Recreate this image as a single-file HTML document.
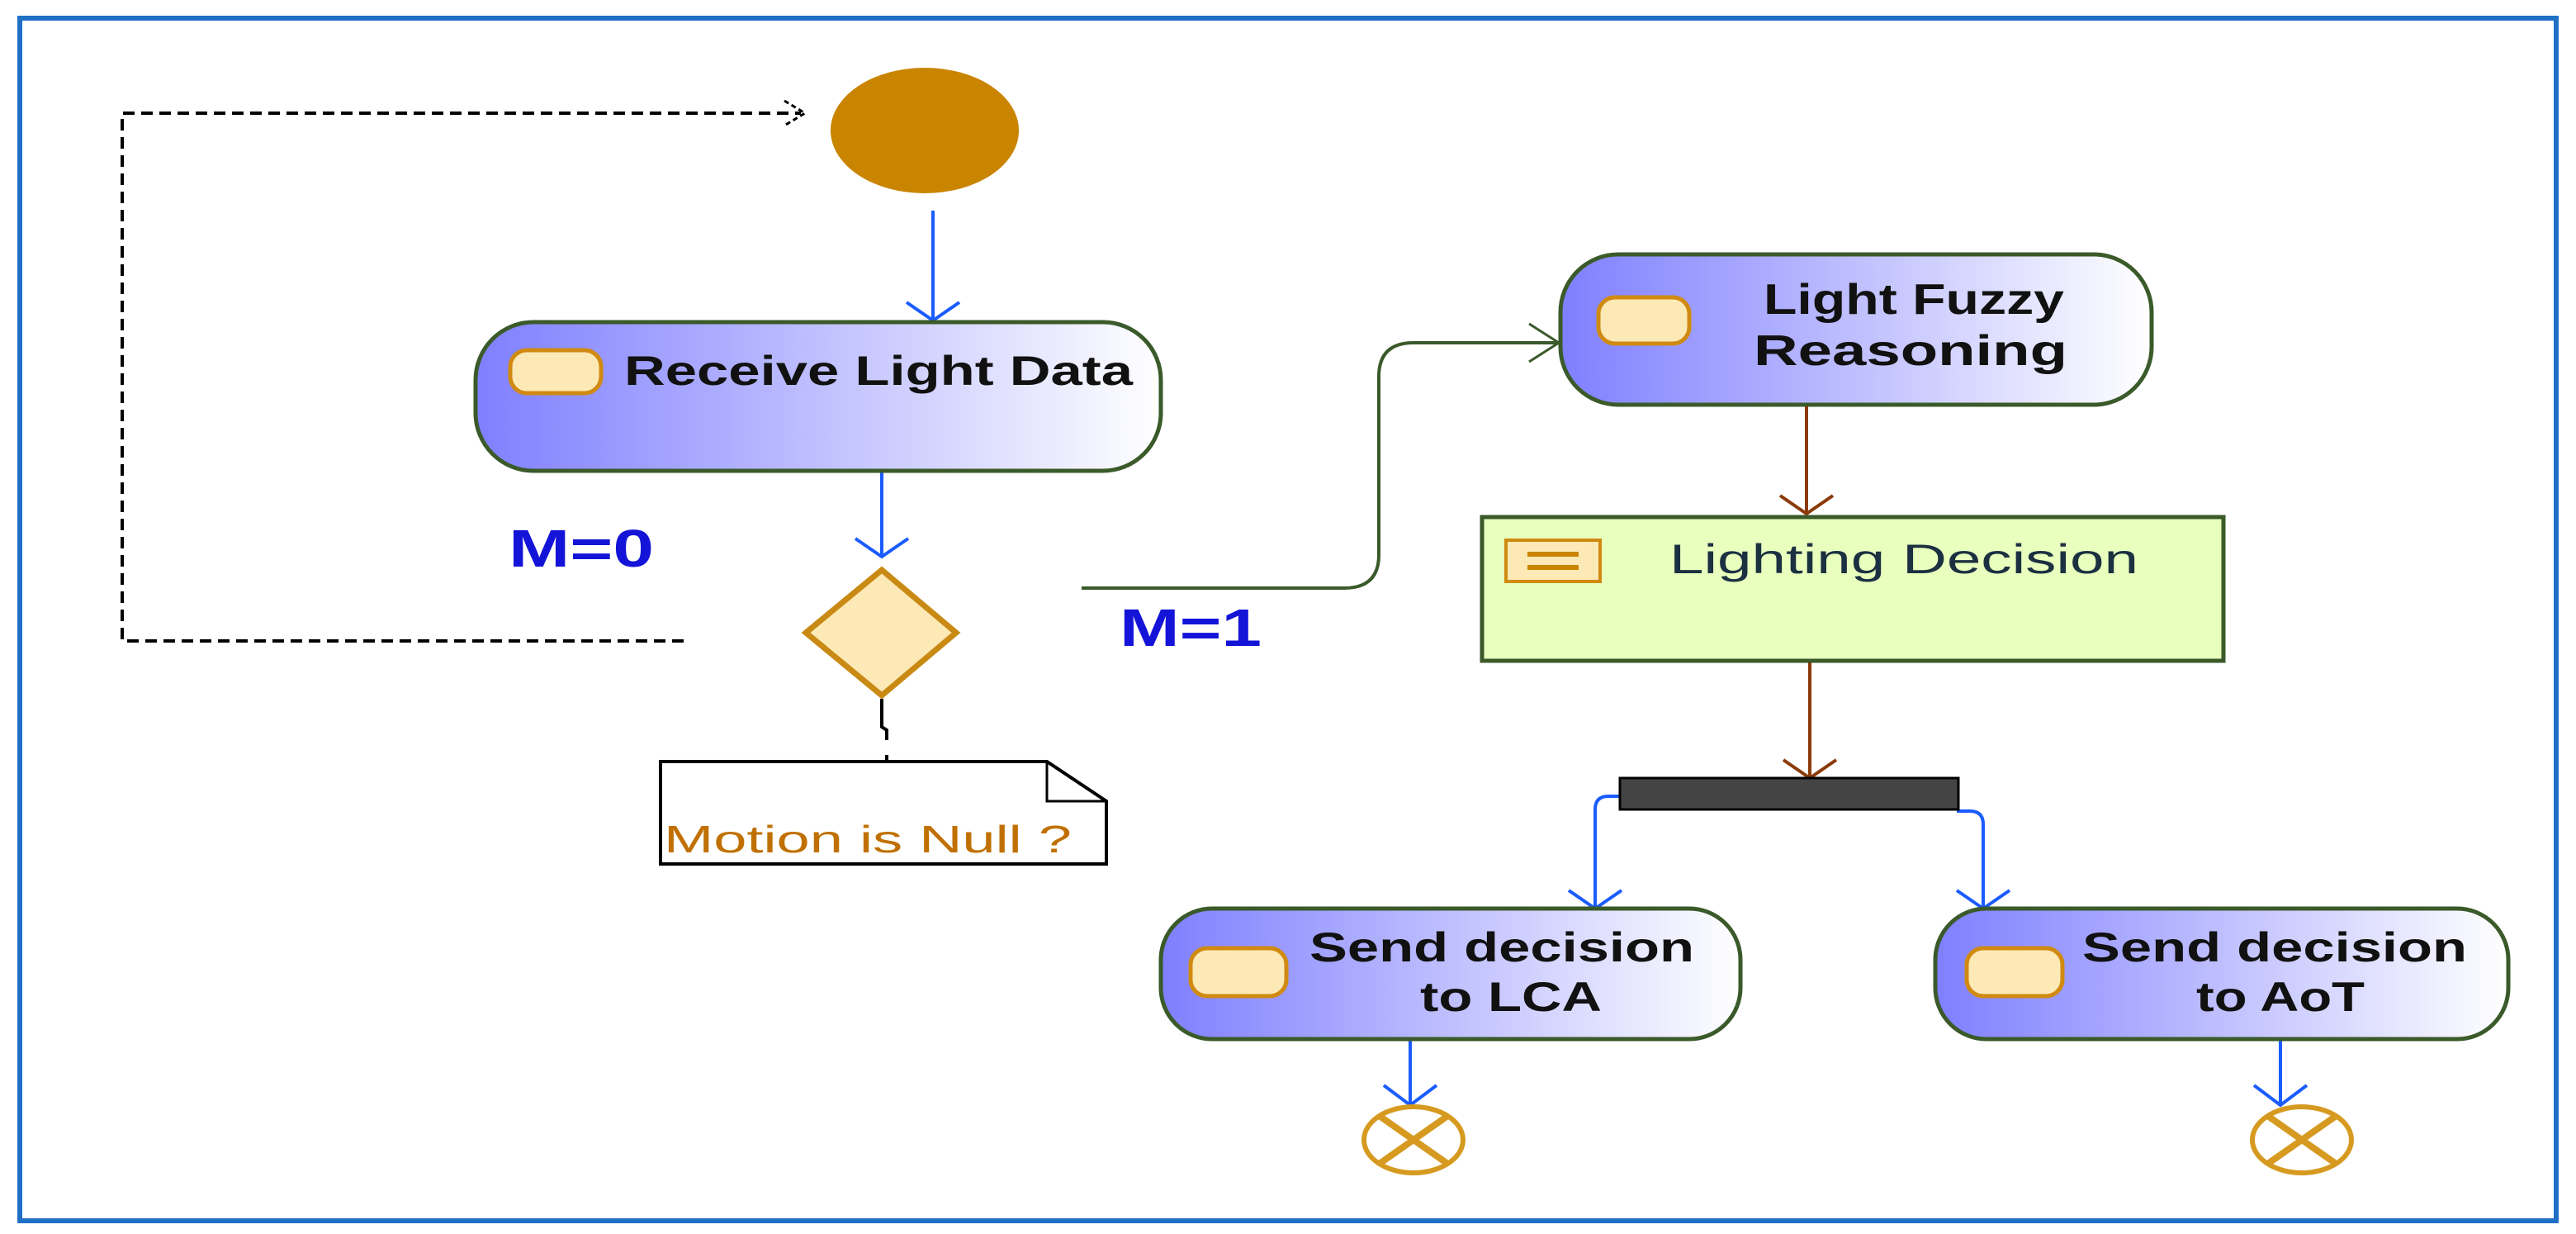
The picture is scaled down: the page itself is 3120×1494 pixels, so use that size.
<!DOCTYPE html>
<html><head><meta charset="utf-8"><style>html,body{margin:0;padding:0;background:#fff}svg{display:block}</style></head>
<body>
<svg width="3120" height="1494" viewBox="0 0 3120 1494" xmlns="http://www.w3.org/2000/svg" font-family="Liberation Sans, sans-serif">
<defs>
<linearGradient id="g" x1="0" x2="1" y1="0" y2="0"><stop offset="0" stop-color="#7f7fff"/><stop offset="1" stop-color="#ffffff"/></linearGradient>
</defs>
<rect x="24" y="22" width="3072" height="1456" fill="none" stroke="#1f70c4" stroke-width="6"/>

<path d="M828,776 H148 V137 H970" fill="none" stroke="#000" stroke-width="4" stroke-dasharray="14,8"/>
<path d="M950,122 L975,137 L950,152" fill="none" stroke="#000" stroke-width="3" stroke-dasharray="6,4"/>

<ellipse cx="1120" cy="158" rx="114" ry="76" fill="#c98400"/>
<g stroke="#1a5cff" stroke-width="4" fill="none">
<path d="M1130,255 V386"/><path d="M1098,366 L1130,388 L1162,366"/>
<path d="M1068,572 V674"/><path d="M1036,652 L1068,674 L1100,652"/>
<path d="M1970,964 H1948 Q1932,964 1932,980 V1098"/><path d="M1900,1078 L1932,1100 L1964,1078"/>
<path d="M2370,982 H2386 Q2402,982 2402,998 V1098"/><path d="M2370,1078 L2402,1100 L2434,1078"/>
<path d="M1708,1258 V1336"/><path d="M1676,1314 L1708,1338 L1740,1314"/>
<path d="M2762,1258 V1336"/><path d="M2730,1314 L2762,1338 L2794,1314"/>
</g>

<rect x="576" y="390" width="830" height="180" rx="70" fill="url(#g)" stroke="#3a5a2a" stroke-width="5"/>
<rect x="618" y="424" width="110" height="52" rx="20" fill="#fde9b6" stroke="#d08a10" stroke-width="5"/>
<text x="756" y="466" font-size="50" font-weight="bold" fill="#111" textLength="616" lengthAdjust="spacingAndGlyphs">Receive Light Data</text>

<text x="616" y="686" font-size="64" font-weight="bold" fill="#1414d8" textLength="176" lengthAdjust="spacingAndGlyphs">M=0</text>
<text x="1356" y="782" font-size="64" font-weight="bold" fill="#1414d8" textLength="172" lengthAdjust="spacingAndGlyphs">M=1</text>

<polygon points="1068,690 1158,766 1068,842 976,766" fill="#fde9b6" stroke="#c98a14" stroke-width="7"/>
<path d="M1068,846 V880 L1074,884 V896" stroke="#000" stroke-width="4" fill="none"/>
<rect x="1072" y="914" width="4" height="6" fill="#000"/>

<path d="M800,922 H1268 L1340,970 V1046 H800 Z" fill="#fff" stroke="#000" stroke-width="4"/>
<path d="M1268,922 V970 H1340" fill="none" stroke="#000" stroke-width="3"/>
<text x="804" y="1032" font-size="46" fill="#c07000" textLength="494" lengthAdjust="spacingAndGlyphs">Motion is Null ?</text>

<path d="M1310,712 H1628 Q1670,712 1670,672 V456 Q1670,415 1712,415 H1888" fill="none" stroke="#3a5a2a" stroke-width="4"/>
<path d="M1852,392 L1888,415 L1852,438" fill="none" stroke="#3a5a2a" stroke-width="3"/>

<rect x="1890" y="308" width="716" height="182" rx="70" fill="url(#g)" stroke="#3a5a2a" stroke-width="5"/>
<rect x="1936" y="360" width="110" height="56" rx="20" fill="#fde9b6" stroke="#d08a10" stroke-width="5"/>
<text x="2136" y="380" font-size="52" font-weight="bold" fill="#111" textLength="364" lengthAdjust="spacingAndGlyphs">Light Fuzzy</text>
<text x="2124" y="442" font-size="52" font-weight="bold" fill="#111" textLength="380" lengthAdjust="spacingAndGlyphs">Reasoning</text>

<g stroke="#8b3a0a" stroke-width="4" fill="none">
<path d="M2188,492 V620"/><path d="M2156,600 L2188,622 L2220,600"/>
<path d="M2192,800 V940"/><path d="M2160,920 L2192,942 L2224,920"/>
</g>

<rect x="1795" y="626" width="898" height="174" fill="#e8ffbe" stroke="#3a5a2a" stroke-width="5"/>
<rect x="1824" y="654" width="114" height="50" fill="#fde9b6" stroke="#d08a10" stroke-width="4"/>
<rect x="1850" y="668" width="62" height="6" fill="#c98400"/><rect x="1850" y="684" width="62" height="6" fill="#c98400"/>
<text x="2022" y="694" font-size="50" fill="#1b3040" textLength="568" lengthAdjust="spacingAndGlyphs">Lighting Decision</text>

<rect x="1962" y="942" width="410" height="38" fill="#444" stroke="#000" stroke-width="3"/>

<rect x="1406" y="1100" width="702" height="158" rx="62" fill="url(#g)" stroke="#3a5a2a" stroke-width="5"/>
<rect x="1442" y="1148" width="116" height="58" rx="20" fill="#fde9b6" stroke="#d08a10" stroke-width="5"/>
<text x="1586" y="1164" font-size="50" font-weight="bold" fill="#111" textLength="466" lengthAdjust="spacingAndGlyphs">Send decision</text>
<text x="1720" y="1224" font-size="50" font-weight="bold" fill="#111" textLength="220" lengthAdjust="spacingAndGlyphs">to LCA</text>

<rect x="2344" y="1100" width="694" height="158" rx="62" fill="url(#g)" stroke="#3a5a2a" stroke-width="5"/>
<rect x="2382" y="1148" width="116" height="58" rx="20" fill="#fde9b6" stroke="#d08a10" stroke-width="5"/>
<text x="2522" y="1164" font-size="50" font-weight="bold" fill="#111" textLength="466" lengthAdjust="spacingAndGlyphs">Send decision</text>
<text x="2660" y="1224" font-size="50" font-weight="bold" fill="#111" textLength="204" lengthAdjust="spacingAndGlyphs">to AoT</text>

<g stroke="#d69a20" stroke-width="6" fill="#fff">
<ellipse cx="1712" cy="1380" rx="60" ry="40"/>
<path d="M1672,1352 L1752,1408 M1752,1352 L1672,1408" stroke-width="8"/>
<ellipse cx="2788" cy="1380" rx="60" ry="40"/>
<path d="M2748,1352 L2828,1408 M2828,1352 L2748,1408" stroke-width="8"/>
</g>
</svg>
</body></html>
